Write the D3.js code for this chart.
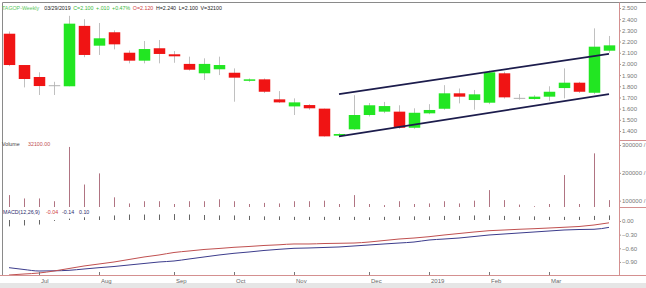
<!DOCTYPE html>
<html>
<head>
<meta charset="utf-8">
<script src="https://cdn.jsdelivr.net/npm/d3@7"></script>
<style>
  body { margin: 0; background: #fff; }
  svg { display: block; font-family: "Liberation Sans", Arial, sans-serif; }
</style>
</head>
<body>
<svg width="646" height="288"></svg>
<script>
'use strict';

// weekly bars, Fridays
const weeks = ["2018-06-22","2018-06-29","2018-07-06","2018-07-13","2018-07-20","2018-07-27",
  "2018-08-03","2018-08-10","2018-08-17","2018-08-24","2018-08-31","2018-09-07","2018-09-14",
  "2018-09-21","2018-09-28","2018-10-05","2018-10-12","2018-10-19","2018-10-26","2018-11-02",
  "2018-11-09","2018-11-16","2018-11-23","2018-11-30","2018-12-07","2018-12-14","2018-12-21",
  "2018-12-28","2019-01-04","2019-01-11","2019-01-18","2019-01-25","2019-02-01","2019-02-08",
  "2019-02-15","2019-02-22","2019-03-01","2019-03-08","2019-03-15","2019-03-22","2019-03-29"];

const open  = [2.27,1.99,1.883,1.805,1.80,2.34,2.163,2.283,2.10,2.029,2.14,2.086,2.0,1.916,1.952,
  1.921,1.85,1.862,1.683,1.62,1.632,1.60,1.358,1.415,1.543,1.573,1.573,1.429,1.558,1.599,1.737,
  1.677,1.653,1.916,1.692,1.686,1.707,1.784,1.832,1.742,2.118];
const close = [1.99,1.865,1.802,1.805,2.36,2.08,2.229,2.175,2.029,2.133,2.089,2.068,1.948,2.0,1.99,
  1.877,1.862,1.751,1.656,1.656,1.603,1.352,1.373,1.543,1.63,1.623,1.429,1.563,1.588,1.737,1.707,
  1.728,1.925,1.701,1.692,1.707,1.751,1.832,1.751,2.154,2.166];
const high  = [2.29,1.99,1.925,1.84,2.43,2.40,2.366,2.30,2.12,2.205,2.214,2.115,2.065,2.05,2.065,
  1.96,1.87,1.87,1.757,1.692,1.64,1.60,1.38,1.72,1.65,1.66,1.63,1.603,1.64,1.81,1.78,1.767,1.94,
  1.93,1.73,1.72,1.80,1.96,1.84,2.318,2.25];
const low   = [1.98,1.79,1.722,1.722,1.80,2.06,2.08,2.13,2.005,2.005,2.005,2.01,1.94,1.856,1.90,
  1.662,1.84,1.74,1.65,1.543,1.59,1.35,1.35,1.41,1.53,1.56,1.42,1.42,1.55,1.59,1.647,1.59,1.64,
  1.69,1.68,1.68,1.67,1.692,1.74,1.73,2.10];

const volume = [120000,108000,108000,98000,293000,158000,198000,112000,90000,98000,98000,88000,
  98000,98000,105000,98000,88000,92000,90000,98000,98000,100000,88000,120000,88000,84000,98000,
  88000,90000,98000,90000,100000,138000,102000,86000,80000,88000,192000,88000,270000,102000];

const macd   = [-1.187,-1.165,-1.143,-1.099,-1.044,-0.989,-0.945,-0.901,-0.846,-0.791,-0.747,-0.692,
  -0.659,-0.626,-0.604,-0.578,-0.560,-0.538,-0.523,-0.505,-0.505,-0.495,-0.49,-0.484,-0.462,-0.429,
  -0.396,-0.374,-0.345,-0.308,-0.275,-0.242,-0.213,-0.198,-0.182,-0.169,-0.154,-0.138,-0.121,-0.088,-0.04];
const signal = [-1.026,-1.066,-1.099,-1.095,-1.084,-1.055,-1.026,-1.0,-0.967,-0.934,-0.901,-0.879,
  -0.835,-0.791,-0.747,-0.710,-0.681,-0.648,-0.622,-0.6,-0.593,-0.582,-0.571,-0.549,-0.527,-0.505,
  -0.484,-0.462,-0.418,-0.396,-0.374,-0.341,-0.308,-0.286,-0.264,-0.242,-0.220,-0.198,-0.187,-0.182,-0.14];
const hist = [-0.14,-0.12,-0.10,-0.02,0.03,0.06,0.08,0.10,0.12,0.12,0.12,0.13,0.12,0.11,0.10,0.10,
  0.09,0.08,0.08,0.07,0.07,0.07,0.07,0.07,0.06,0.07,0.08,0.08,0.08,0.09,0.09,0.10,0.10,0.09,0.08,
  0.08,0.07,0.07,0.07,0.09,0.10];

// channel lines (week index, price)
const upperLine = [{i:22, p:1.73}, {i:40, p:2.09}];
const lowerLine = [{i:22, p:1.352}, {i:40, p:1.73}];

const priceTicks = [1.4,1.5,1.6,1.7,1.8,1.9,2.0,2.1,2.2,2.3,2.4,2.5];
const volTicks = [100000,200000,300000];
const macdTicks = [0,-0.3,-0.6,-0.9];
const monthTicks = ["2018-07-06","2018-08-03","2018-09-07","2018-10-05","2018-11-02",
  "2018-12-07","2019-01-04","2019-02-01","2019-03-01"];
const monthLabels = ["Jul","Aug","Sep","Oct","Nov","Dec","2019","Feb","Mar"];

const headerTexts = ["TAGOP-Weekly","03/29/2019","C=2.100","+.010","+0.47%","O=2.120","H=2.240","L=2.100","V=32100"];
const headerColors = ["#5cc85c","#222","#3cb83c","#3cb83c","#3cb83c","#d04040","#222","#222","#222"];

const svg = d3.select("svg");
const width = parseFloat(svg.attr("width"));
const parse = d3.timeParse("%Y-%m-%d");
const dates = weeks.map(parse);

const axisX = 619;
const priceBottom = 140;
const volBottom = 207;
const macdBottom = 275;

const x = d3.scaleTime()
    .domain([dates[0], dates[dates.length-1]])
    .range([9, 609]);
const y = d3.scaleLinear().domain([1.4, 2.5]).range([131, 8]);
const yVol = d3.scaleLinear().domain([0, 300000]).range([228.5, 145]);
const yMacd = d3.scaleLinear().domain([-1, 0]).range([266.5, 221]);

const bodyW = 11.5;
const red = "#f01414";
const green = "#22e622";

// frame
svg.append("line").attr("x1",2.5).attr("x2",width).attr("y1",2.5).attr("y2",2.5)
    .attr("stroke","#8a8a8a");
svg.append("line").attr("x1",2.5).attr("x2",2.5).attr("y1",2.5).attr("y2",macdBottom)
    .attr("stroke","#8a8a8a");
svg.append("rect").attr("x",0).attr("y",283).attr("width",width).attr("height",5)
    .attr("fill","#e6e6e6");

// candles
const candles = svg.append("g");
dates.forEach((d, i) => {
  const cx = Math.round(x(d)) + 0.5;
  candles.append("line")
      .attr("x1",cx).attr("x2",cx)
      .attr("y1",y(high[i])).attr("y2",y(low[i]))
      .attr("stroke","#c0c0c0");
  if (open[i] === close[i]) {
    candles.append("line")
        .attr("x1",cx-bodyW/2).attr("x2",cx+bodyW/2)
        .attr("y1",y(open[i])).attr("y2",y(open[i]))
        .attr("stroke","#b0b0b0");
  } else {
    const top = y(Math.max(open[i], close[i]));
    const bot = y(Math.min(open[i], close[i]));
    candles.append("rect")
        .attr("x",cx-bodyW/2)
        .attr("y",top)
        .attr("width",bodyW)
        .attr("height",Math.max(bot-top, 1.5))
        .attr("fill", close[i] > open[i] ? green : red);
  }
});

// channel
const chan = d3.line().x(d => x(dates[d.i])).y(d => y(d.p));
[upperLine, lowerLine].forEach(l => {
  svg.append("path").attr("d",chan(l))
      .attr("fill","none").attr("stroke","#1c1c4c").attr("stroke-width",1.6);
});

// volume
svg.append("g").selectAll("line").data(volume).join("line")
    .attr("x1",(v,i) => Math.round(x(dates[i])) + 0.5)
    .attr("x2",(v,i) => Math.round(x(dates[i])) + 0.5)
    .attr("y1",v => Math.min(yVol(v), volBottom))
    .attr("y2",volBottom)
    .attr("stroke","#b07482");

// macd histogram
svg.append("g").selectAll("line").data(hist).join("line")
    .attr("x1",(v,i) => Math.round(x(dates[i])) + 0.5)
    .attr("x2",(v,i) => Math.round(x(dates[i])) + 0.5)
    .attr("y1",v => yMacd(v) - 1)
    .attr("y2",yMacd(0) - 1)
    .attr("stroke","#666");

// macd lines
const ml = d3.line().x((v,i) => x(dates[i])).y(v => yMacd(v)).curve(d3.curveMonotoneX);
svg.append("path").attr("d",ml(signal))
    .attr("fill","none").attr("stroke","#3c3c8c").attr("stroke-width",1);
svg.append("path").attr("d",ml(macd))
    .attr("fill","none").attr("stroke","#c05050").attr("stroke-width",1);

// right axes
const axisCol = "#d49090";
const styleAxis = g => {
  g.select(".domain").remove();
  g.selectAll(".tick line").attr("stroke","#999");
  g.selectAll(".tick text").attr("fill","#777").attr("font-size",6)
      .attr("font-family","Liberation Sans, Arial, sans-serif");
};
svg.append("g").attr("transform",`translate(${axisX},0)`)
    .call(d3.axisRight(y).tickValues(priceTicks).tickSize(2).tickPadding(1)
        .tickFormat(d3.format(".3f")))
    .call(styleAxis);
svg.append("g").attr("transform",`translate(${axisX},0)`)
    .call(d3.axisRight(yVol).tickValues(volTicks).tickSize(2).tickPadding(1)
        .tickFormat(d => d + " /"))
    .call(styleAxis);
svg.append("g").attr("transform",`translate(${axisX},0)`)
    .call(d3.axisRight(yMacd).tickValues(macdTicks).tickSize(2).tickPadding(1)
        .tickFormat(d3.format(".2f")))
    .call(styleAxis);

svg.append("line").attr("x1",axisX+0.5).attr("x2",axisX+0.5).attr("y1",2.5).attr("y2",macdBottom)
    .attr("stroke",axisCol);
[priceBottom, volBottom].forEach(yy => {
  svg.append("line").attr("x1",axisX).attr("x2",width).attr("y1",yy+0.5).attr("y2",yy+0.5)
      .attr("stroke",axisCol);
});

// bottom time axis
const xAxis = svg.append("g").attr("transform",`translate(0,${macdBottom})`)
    .call(d3.axisBottom(x).tickValues(monthTicks.map(parse)).tickSize(0)
        .tickFormat((d,i) => monthLabels[i]));
xAxis.select(".domain").remove();
xAxis.selectAll(".tick text")
    .attr("fill","#666").attr("font-size",6).attr("text-anchor","start")
    .attr("dx",1.5).attr("y",4);
xAxis.selectAll(".tick").append("line")
    .attr("y1",-3).attr("y2",1).attr("stroke","#777");
svg.append("line").attr("x1",0).attr("x2",width).attr("y1",macdBottom+0.5).attr("y2",macdBottom+0.5)
    .attr("stroke",axisCol);

// header: laid out left to right so nothing overlaps
let hx = 2;
headerTexts.forEach((s, i) => {
  const t = svg.append("text").attr("x",hx).attr("y",9.5)
      .attr("font-size",5.3).attr("fill",headerColors[i]).text(s);
  hx += t.node().getComputedTextLength() + (i === 0 ? 5 : 2.6);
});

const txt = (xx, yy, s, col) => svg.append("text").attr("x",xx).attr("y",yy)
    .attr("font-size",5.3).attr("fill",col).text(s);
txt(2, 145.5, "Volume", "#444");
txt(28, 145.5, "32100.00", "#c05050");

txt(3, 213.5, "MACD(12,26,9)", "#2c2c6c");
txt(46, 213.5, "-0.04", "#d04040");
txt(62, 213.5, "-0.14", "#2c2c6c");
txt(79, 213.5, "0.10", "#2c2c6c");
</script>
</body>
</html>
